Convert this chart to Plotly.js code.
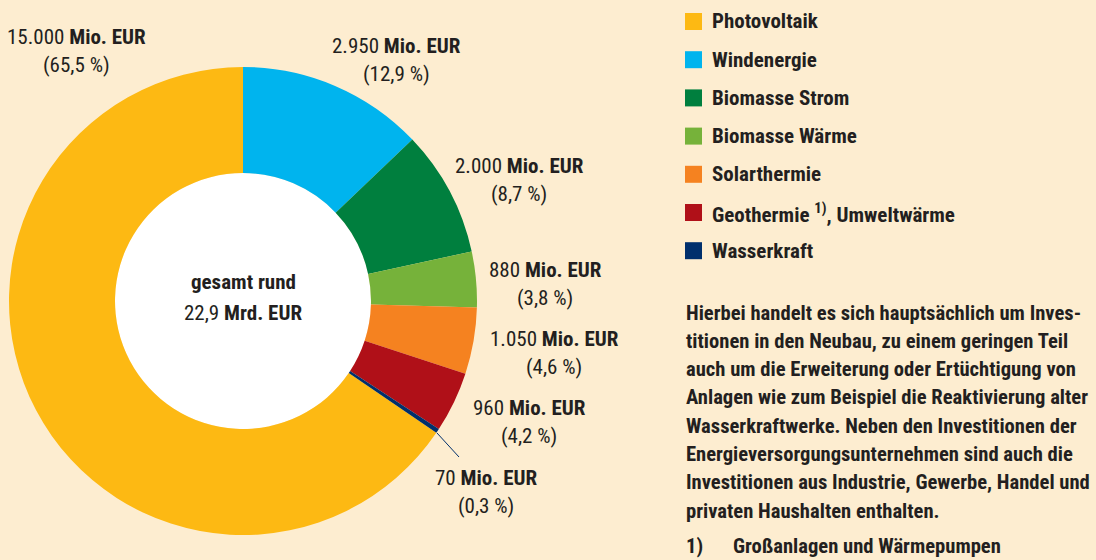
<!DOCTYPE html>
<html><head><meta charset="utf-8">
<script src="https://cdn.plot.ly/plotly-3.0.1.min.js"></script>
<style>html,body{margin:0;padding:0;background:#FDEDD0;} #chart{width:1096px;height:560px;}</style>
</head><body><div id="chart"></div>
<script>
// ---- data ----
const categories = ['Photovoltaik', 'Windenergie', 'Biomasse Strom', 'Biomasse Wärme', 'Solarthermie', 'Geothermie, Umweltwärme', 'Wasserkraft'];
const legendLabels = ['Photovoltaik', 'Windenergie', 'Biomasse Strom', 'Biomasse Wärme', 'Solarthermie', 'Geothermie <sup>1)</sup>, Umweltwärme', 'Wasserkraft'];
const values = [15000, 2950, 2000, 880, 1050, 960, 70];   // Mio. EUR
const colors = ['#FDB913', '#00B4EE', '#007F3E', '#76B23A', '#F58220', '#B01018', '#002F6C'];
const unitMio = 'Mio. EUR';
const unitMrd = 'Mrd. EUR';
const centerTitle = 'gesamt rund';
const noteLines = [
  'Hierbei handelt es sich hauptsächlich um Inves-',
  'titionen in den Neubau, zu einem geringen Teil',
  'auch um die Erweiterung oder Ertüchtigung von',
  'Anlagen wie zum Beispiel die Reaktivierung alter',
  'Wasserkraftwerke. Neben den Investitionen der',
  'Energieversorgungsunternehmen sind auch die',
  'Investitionen aus Industrie, Gewerbe, Handel und',
  'privaten Haushalten enthalten.'
];
const footnoteMark = '1)';
const footnoteText = 'Großanlagen und Wärmepumpen';

// ---- layout helpers ----
const W = 1096, H = 560;
const px = x => x / W;
const py = y => 1 - y / H;
const FONT = '"Roboto Condensed", Roboto, "DejaVu Sans Condensed", sans-serif';
const TXT = '#231F20';
const FS = 21;
const FS_NOTE = 20.6;

const total = values.reduce((a, b) => a + b, 0);
const fmtThousands = v => String(Math.round(v)).replace(/\B(?=(\d{3})+(?!\d))/g, '.');
const fmtPct = v => (v / total * 100).toFixed(1).replace('.', ',');

// donut geometry (pixels)
const CX = 243, CY = 301, R = 234, RIN = 128;

// label anchor positions (pixels: centre x, first line y)
const labelPos = [[76, 37], [396, 46], [519, 166], [545, 270], [554, 339], [529, 408], [486, 478]];
const LINE2 = 28;

const annotations = [];
values.forEach((v, i) => {
  const [lx, ly] = labelPos[i];
  annotations.push({xref: 'paper', yref: 'paper', x: px(lx), y: py(ly), xanchor: 'center', yanchor: 'middle', showarrow: false,
    text: fmtThousands(v) + ' <b>' + unitMio + '</b>', font: {family: FONT, size: FS, color: TXT}});
  annotations.push({xref: 'paper', yref: 'paper', x: px(lx), y: py(ly + LINE2), xanchor: 'center', yanchor: 'middle', showarrow: false,
    text: '(' + fmtPct(v) + ' %)', font: {family: FONT, size: FS, color: TXT}});
});

// centre text
annotations.push({xref: 'paper', yref: 'paper', x: px(CX), y: py(282), xanchor: 'center', yanchor: 'middle', showarrow: false,
  text: '<b>' + centerTitle + '</b>', font: {family: FONT, size: FS, color: TXT}});
annotations.push({xref: 'paper', yref: 'paper', x: px(CX), y: py(313), xanchor: 'center', yanchor: 'middle', showarrow: false,
  text: (total / 1000).toFixed(1).replace('.', ',') + ' <b>' + unitMrd + '</b>', font: {family: FONT, size: FS, color: TXT}});

// legend (manual)
const shapes = [];
shapes.push({type: 'circle', xref: 'paper', yref: 'paper', layer: 'below',
  x0: px(CX - RIN), x1: px(CX + RIN), y0: py(CY + RIN), y1: py(CY - RIN), fillcolor: '#FFFFFF', line: {width: 0}});
legendLabels.forEach((lab, i) => {
  const cy = 21.5 + i * 38.2;
  shapes.push({type: 'rect', xref: 'paper', yref: 'paper', x0: px(685), x1: px(702), y0: py(cy + 8.5), y1: py(cy - 8.5),
    fillcolor: colors[i], line: {width: 0}});
  annotations.push({xref: 'paper', yref: 'paper', x: px(710), y: py(cy), xanchor: 'left', yanchor: 'middle', showarrow: false,
    text: '<b>' + lab + '</b>', font: {family: FONT, size: FS, color: TXT}});
});

// leader line for the small slice
shapes.push({type: 'line', xref: 'paper', yref: 'paper', x0: px(437), y0: py(433), x1: px(459), y1: py(457),
  line: {color: colors[6], width: 1}});

// note text
noteLines.forEach((t, i) => {
  annotations.push({xref: 'paper', yref: 'paper', x: px(684), y: py(312.5 + i * 28.3), xanchor: 'left', yanchor: 'middle', showarrow: false,
    text: '<b>' + t + '</b>', font: {family: FONT, size: FS_NOTE, color: TXT}});
});
annotations.push({xref: 'paper', yref: 'paper', x: px(684), y: 0, xanchor: 'left', yanchor: 'bottom', showarrow: false,
  text: '<b>' + footnoteMark + '</b>', font: {family: FONT, size: FS_NOTE, color: TXT}});
annotations.push({xref: 'paper', yref: 'paper', x: px(731), y: 0, xanchor: 'left', yanchor: 'bottom', showarrow: false,
  text: '<b>' + footnoteText + '</b>', font: {family: FONT, size: FS_NOTE, color: TXT}});

const trace = {
  type: 'pie',
  labels: categories,
  values: values,
  marker: {colors: colors, line: {width: 0}},
  hole: RIN / R,
  sort: false,
  direction: 'clockwise',
  rotation: 360 * (1 - values[0] / total),
  textinfo: 'none',
  hoverinfo: 'label+value+percent',
  showlegend: false,
  domain: {x: [px(CX - R), px(CX + R)], y: [py(CY + R), py(CY - R)]}
};

const layout = {
  width: W, height: H,
  margin: {l: 0, r: 0, t: 0, b: 0},
  paper_bgcolor: '#FDEDD0',
  showlegend: false,
  annotations: annotations,
  shapes: shapes
};

Plotly.newPlot('chart', [trace], layout, {displayModeBar: false, staticPlot: true});
</script>
</body></html>
